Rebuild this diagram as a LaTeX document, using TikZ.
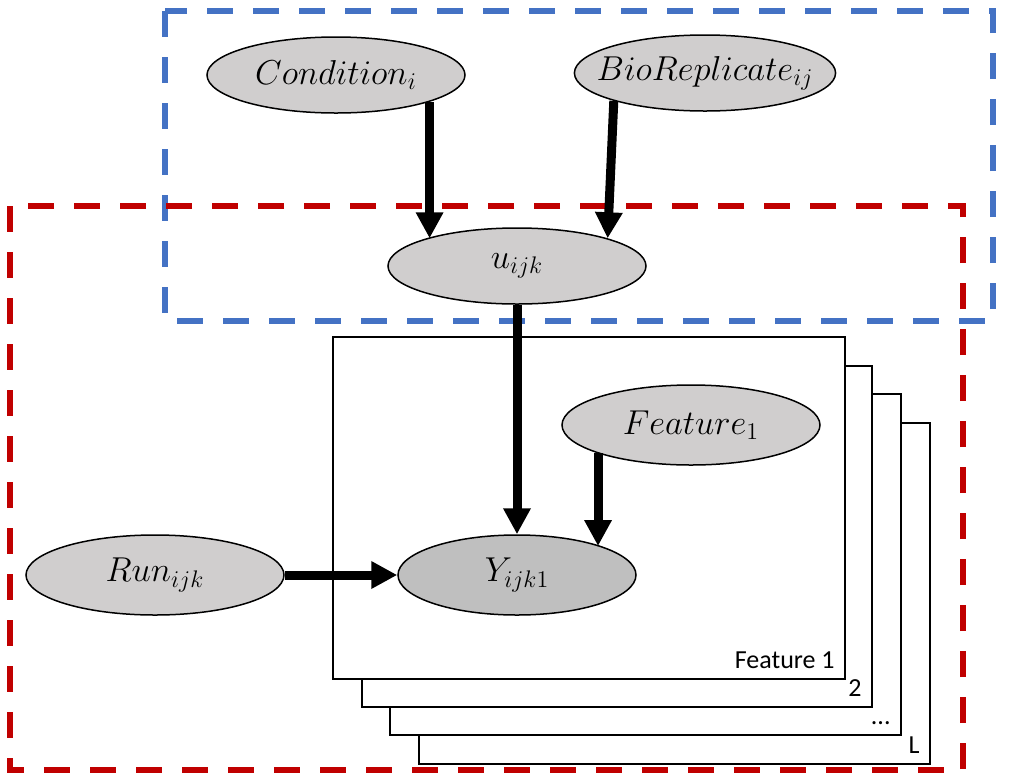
\documentclass[tikz,border=0pt]{standalone}
\usepackage{fontspec}
\setsansfont{Carlito}
\usetikzlibrary{shapes.geometric,arrows.meta}
\definecolor{varfill}{RGB}{208,206,206}
\definecolor{obsfill}{RGB}{191,191,191}
\definecolor{groupblue}{RGB}{68,114,196}
\definecolor{groupred}{RGB}{192,0,0}
\tikzset{
  var/.style={ellipse, draw, line width=0.75pt, fill=varfill, minimum width=129pt,
    minimum height=38pt, inner sep=0pt, font=\fontsize{17.5}{20}\selectfont},
  obs/.style={var, fill=obsfill, minimum width=119pt, minimum height=40pt},
  arr/.style={line width=4.5pt, -{Triangle[length=13pt,width=13pt]}},
  plate/.style={draw, line width=1.2pt, fill=white},
  platelabel/.style={anchor=south east, inner sep=5pt, font=\sffamily\fontsize{13}{15}\selectfont},
  region/.style={line width=3pt, dash pattern=on 13pt off 10pt},
}
\begin{document}
\begin{tikzpicture}[x=0.5pt, y=-0.5pt]
   \useasboundingbox (0,0) rectangle (1014,778);
   % dashed groups
   \draw[region, groupblue] (165,11) rectangle (993,321);
   \draw[region, groupred] (10,206) rectangle (963,770);
   % feature plates, back to front
   \draw[plate] (419,423) rectangle (930,764);
   \node[platelabel] at (930,764) {L};
   \draw[plate] (390,394) rectangle (901,735);
   \node[platelabel] at (901,735) {...};
   \draw[plate] (362,366) rectangle (872,707);
   \node[platelabel] at (872,707) {2};
   \draw[plate] (333,337) rectangle (845,679);
   \node[platelabel] at (845,679) {Feature 1};
   % variables
   \node[var] (cond) at (336,75) {$Condition_i$};
   \node[var, inner xsep=-8pt] (bio) at (705,73) {$BioReplicate_{ij}$};
   \node[var] (u) at (517,266) {$u_{ijk}$};
   \node[var, minimum height=40pt] (feat) at (691,425) {$Feature_1$};
   \node[var, minimum height=40pt] (run) at (155,575) {$Run_{ijk}$};
   \node[obs] (y) at (517,575) {$Y_{ijk1}$};
   % dependencies
   \draw[arr] (cond.-16) -- (cond.-16 |- u.163);
   \draw[arr] (bio.197) -- (u.17);
   \draw[arr] (u.south) -- (y.north);
   \draw[arr] (feat.197) -- (feat.197 |- y.19);
   \draw[arr] (run.east) -- (y.west);
\end{tikzpicture}
\end{document}
